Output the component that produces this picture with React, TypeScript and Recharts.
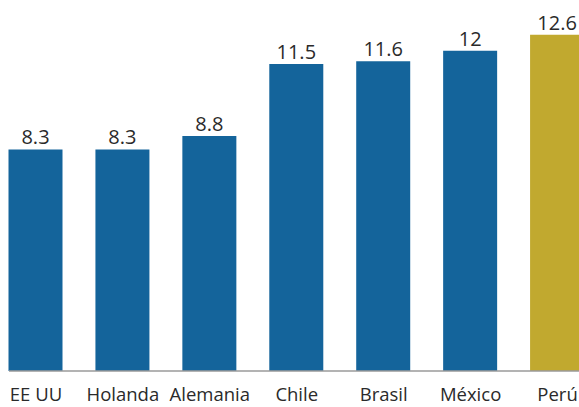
import React from "react";
import { BarChart, Bar, XAxis, YAxis, Cell, LabelList } from "recharts";

const categories = ["EE UU", "Holanda", "Alemania", "Chile", "Brasil", "México", "Perú"];
const values = [8.3, 8.3, 8.8, 11.5, 11.6, 12, 12.6];
const colors = ["#14649b", "#14649b", "#14649b", "#14649b", "#14649b", "#14649b", "#c1a92f"];

const data = categories.map((name, i) => ({ name, value: values[i] }));

const FONT = "'Open Sans', 'Noto Sans', sans-serif";

export default function App() {
  return (
    <div style={{ position: "absolute", left: 0, top: 0, width: 579, height: 407, overflow: "hidden", background: "#fff" }}>
      <BarChart
        width={620}
        height={407}
        data={data}
        margin={{ top: 24, right: 0, left: 9, bottom: 0 }}
        barSize={54}
      >
        <XAxis
          dataKey="name"
          height={36}
          tickLine={false}
          tickSize={0}
          tickMargin={17}
          padding={{ left: -16.5, right: 19 }}
          axisLine={{ stroke: "#9a9a9a", strokeWidth: 1.5 }}
          tick={{ fill: "#2a2a2a", fontSize: 18.5, fontFamily: FONT }}
          interval={0}
        />
        <YAxis hide domain={[0, 13]} />
        <Bar dataKey="value" isAnimationActive={false}>
          {data.map((d, i) => (
            <Cell key={d.name} fill={colors[i]} />
          ))}
          <LabelList
            dataKey="value"
            position="top"
            offset={5}
            style={{ fill: "#2a2a2a", fontSize: 20, fontFamily: FONT }}
          />
        </Bar>
      </BarChart>
    </div>
  );
}
